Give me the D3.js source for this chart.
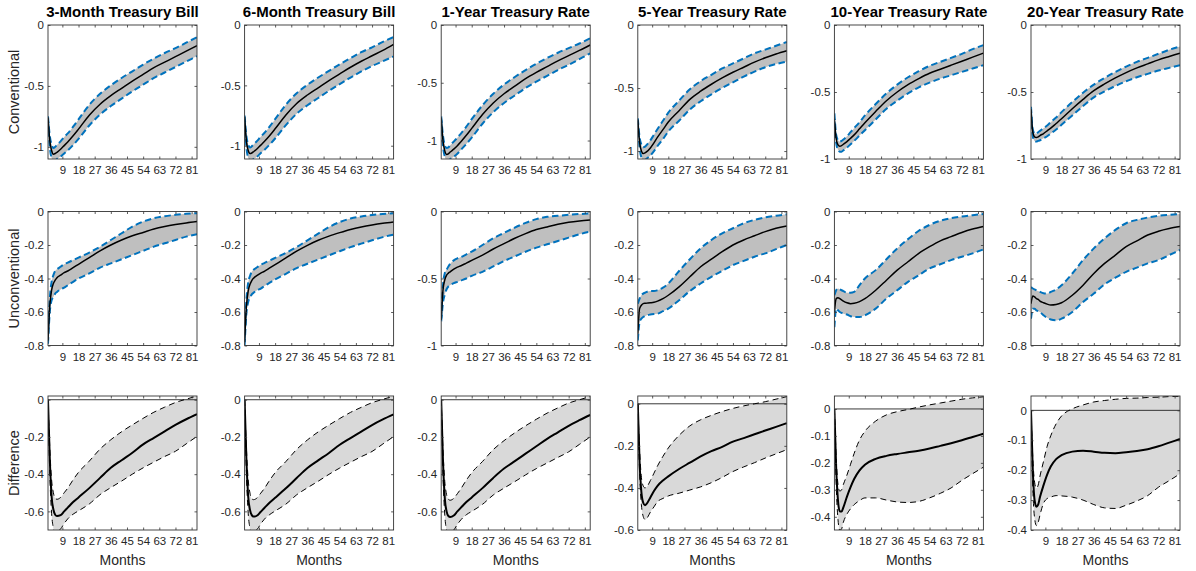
<!DOCTYPE html>
<html>
<head>
<meta charset="utf-8">
<script src="https://cdn.jsdelivr.net/npm/d3@7"></script>
<style>
  html, body { margin: 0; padding: 0; background: #fff; }
  svg { display: block; }
</style>
</head>
<body>
<svg id="chart" width="1196" height="571"></svg>
<script>
// Horizon (months) at which each response is sampled
const months = [1,2,3,4,5,6,8,10,12,15,18,24,30,36,42,48,54,60,66,72,78,84];
const xTicks = [9,18,27,36,45,54,63,72,81];

const titles = ["3-Month Treasury Bill","6-Month Treasury Bill","1-Year Treasury Rate",
                "5-Year Treasury Rate","10-Year Treasury Rate","20-Year Treasury Rate"];
const rowLabels = ["Conventional","Unconventional","Difference"];
const xLabel = "Months";

// ---- Conventional monetary policy shock: median and band ----
const conv3mMid = [-0.76,-0.95,-1.03,-1.06,-1.055,-1.045,-1.02,-0.99,-0.96,-0.91,-0.855,-0.74,-0.65,-0.58,-0.52,-0.46,-0.405,-0.35,-0.305,-0.26,-0.215,-0.17];
const conv3mLo  = [-0.78,-1.0,-1.09,-1.11,-1.115,-1.10,-1.08,-1.055,-1.03,-0.985,-0.935,-0.825,-0.735,-0.665,-0.605,-0.545,-0.49,-0.435,-0.39,-0.345,-0.30,-0.255];
const conv3mHi  = [-0.75,-0.91,-0.98,-1.01,-1.0,-0.985,-0.955,-0.92,-0.89,-0.835,-0.775,-0.655,-0.565,-0.495,-0.435,-0.38,-0.325,-0.275,-0.23,-0.19,-0.145,-0.10];

const conv6mMid = [-0.76,-0.96,-1.04,-1.065,-1.06,-1.05,-1.025,-0.995,-0.965,-0.915,-0.86,-0.745,-0.65,-0.58,-0.52,-0.46,-0.405,-0.35,-0.30,-0.255,-0.21,-0.16];
const conv6mLo  = [-0.78,-1.01,-1.1,-1.12,-1.12,-1.11,-1.09,-1.06,-1.035,-0.99,-0.94,-0.83,-0.735,-0.665,-0.605,-0.545,-0.49,-0.435,-0.385,-0.34,-0.30,-0.26];
const conv6mHi  = [-0.75,-0.92,-0.99,-1.015,-1.005,-0.99,-0.96,-0.925,-0.895,-0.84,-0.78,-0.66,-0.565,-0.495,-0.435,-0.38,-0.325,-0.275,-0.225,-0.185,-0.14,-0.10];

const conv1yMid = [-0.80,-1.0,-1.09,-1.12,-1.115,-1.10,-1.075,-1.045,-1.01,-0.955,-0.895,-0.775,-0.675,-0.595,-0.53,-0.465,-0.41,-0.36,-0.31,-0.265,-0.22,-0.173];
const conv1yLo  = [-0.82,-1.05,-1.14,-1.17,-1.17,-1.16,-1.14,-1.115,-1.08,-1.03,-0.975,-0.855,-0.755,-0.675,-0.61,-0.545,-0.49,-0.44,-0.39,-0.345,-0.295,-0.245];
const conv1yHi  = [-0.79,-0.96,-1.04,-1.065,-1.06,-1.04,-1.01,-0.975,-0.94,-0.88,-0.815,-0.695,-0.595,-0.515,-0.45,-0.39,-0.335,-0.285,-0.24,-0.20,-0.16,-0.115];

const conv5yMid = [-0.75,-0.93,-1.0,-1.02,-1.015,-1.005,-0.975,-0.935,-0.89,-0.83,-0.77,-0.68,-0.59,-0.525,-0.47,-0.42,-0.375,-0.335,-0.295,-0.26,-0.23,-0.204];
const conv5yLo  = [-0.76,-0.97,-1.05,-1.07,-1.07,-1.06,-1.035,-1.0,-0.96,-0.905,-0.845,-0.76,-0.67,-0.605,-0.55,-0.5,-0.455,-0.41,-0.37,-0.335,-0.31,-0.29];
const conv5yHi  = [-0.74,-0.89,-0.95,-0.97,-0.965,-0.95,-0.915,-0.87,-0.825,-0.76,-0.695,-0.6,-0.51,-0.445,-0.395,-0.345,-0.305,-0.265,-0.225,-0.195,-0.165,-0.135];

const conv10yMid = [-0.70,-0.85,-0.895,-0.905,-0.90,-0.89,-0.87,-0.845,-0.82,-0.775,-0.73,-0.645,-0.565,-0.5,-0.445,-0.4,-0.36,-0.33,-0.30,-0.27,-0.24,-0.21];
const conv10yLo  = [-0.72,-0.88,-0.93,-0.945,-0.945,-0.935,-0.915,-0.89,-0.865,-0.825,-0.785,-0.705,-0.625,-0.565,-0.51,-0.465,-0.43,-0.40,-0.375,-0.35,-0.325,-0.30];
const conv10yHi  = [-0.66,-0.82,-0.86,-0.87,-0.865,-0.855,-0.83,-0.80,-0.77,-0.725,-0.675,-0.59,-0.51,-0.445,-0.39,-0.345,-0.305,-0.275,-0.245,-0.215,-0.18,-0.15];

const conv20yMid = [-0.63,-0.80,-0.835,-0.84,-0.835,-0.825,-0.81,-0.79,-0.77,-0.735,-0.70,-0.625,-0.555,-0.49,-0.44,-0.395,-0.355,-0.32,-0.29,-0.26,-0.235,-0.21];
const conv20yLo  = [-0.65,-0.83,-0.865,-0.87,-0.865,-0.86,-0.845,-0.83,-0.81,-0.78,-0.745,-0.675,-0.605,-0.54,-0.495,-0.455,-0.42,-0.39,-0.365,-0.34,-0.32,-0.30];
const conv20yHi  = [-0.61,-0.78,-0.81,-0.81,-0.8,-0.79,-0.77,-0.75,-0.725,-0.69,-0.65,-0.575,-0.505,-0.445,-0.395,-0.35,-0.31,-0.275,-0.245,-0.215,-0.185,-0.16];

// ---- Unconventional monetary policy shock ----
const unc3mMid = [-0.77,-0.56,-0.47,-0.43,-0.41,-0.395,-0.38,-0.365,-0.355,-0.335,-0.315,-0.275,-0.235,-0.20,-0.17,-0.145,-0.125,-0.105,-0.09,-0.078,-0.068,-0.06];
const unc3mLo  = [-0.79,-0.60,-0.53,-0.51,-0.49,-0.48,-0.465,-0.455,-0.44,-0.42,-0.40,-0.37,-0.335,-0.31,-0.285,-0.26,-0.235,-0.21,-0.19,-0.17,-0.15,-0.135];
const unc3mHi  = [-0.75,-0.52,-0.42,-0.38,-0.355,-0.345,-0.33,-0.315,-0.305,-0.29,-0.275,-0.245,-0.21,-0.17,-0.13,-0.09,-0.06,-0.04,-0.028,-0.02,-0.014,-0.01];

const unc6mMid = [-0.78,-0.57,-0.475,-0.435,-0.412,-0.398,-0.382,-0.368,-0.357,-0.337,-0.317,-0.277,-0.237,-0.202,-0.172,-0.147,-0.126,-0.107,-0.092,-0.08,-0.07,-0.062];
const unc6mLo  = [-0.80,-0.61,-0.54,-0.515,-0.495,-0.485,-0.47,-0.46,-0.445,-0.425,-0.405,-0.372,-0.338,-0.312,-0.287,-0.262,-0.237,-0.213,-0.192,-0.172,-0.153,-0.138];
const unc6mHi  = [-0.76,-0.53,-0.425,-0.385,-0.36,-0.348,-0.333,-0.318,-0.308,-0.292,-0.277,-0.247,-0.212,-0.172,-0.132,-0.093,-0.063,-0.042,-0.03,-0.021,-0.015,-0.011];

const unc1yMid = [-0.81,-0.585,-0.51,-0.475,-0.46,-0.45,-0.43,-0.415,-0.405,-0.385,-0.365,-0.325,-0.28,-0.24,-0.20,-0.165,-0.135,-0.115,-0.095,-0.08,-0.07,-0.063];
const unc1yLo  = [-0.82,-0.68,-0.62,-0.58,-0.56,-0.55,-0.535,-0.525,-0.515,-0.50,-0.48,-0.45,-0.41,-0.37,-0.335,-0.30,-0.27,-0.245,-0.22,-0.195,-0.17,-0.15];
const unc1yHi  = [-0.80,-0.55,-0.46,-0.435,-0.41,-0.39,-0.365,-0.35,-0.34,-0.32,-0.30,-0.25,-0.20,-0.16,-0.12,-0.085,-0.057,-0.04,-0.032,-0.025,-0.019,-0.014];

const unc5yMid = [-0.73,-0.58,-0.56,-0.55,-0.548,-0.547,-0.545,-0.542,-0.535,-0.52,-0.50,-0.45,-0.39,-0.33,-0.285,-0.24,-0.20,-0.17,-0.145,-0.12,-0.10,-0.087];
const unc5yLo  = [-0.77,-0.66,-0.64,-0.63,-0.625,-0.62,-0.615,-0.612,-0.61,-0.595,-0.58,-0.53,-0.475,-0.43,-0.39,-0.355,-0.32,-0.295,-0.27,-0.25,-0.225,-0.20];
const unc5yHi  = [-0.55,-0.52,-0.50,-0.49,-0.485,-0.48,-0.475,-0.475,-0.47,-0.455,-0.43,-0.355,-0.285,-0.22,-0.17,-0.13,-0.10,-0.07,-0.05,-0.035,-0.025,-0.017];

const unc10yMid = [-0.60,-0.52,-0.515,-0.52,-0.528,-0.535,-0.545,-0.55,-0.548,-0.538,-0.52,-0.47,-0.41,-0.35,-0.30,-0.25,-0.21,-0.175,-0.15,-0.125,-0.105,-0.09];
const unc10yLo  = [-0.69,-0.58,-0.59,-0.60,-0.605,-0.61,-0.615,-0.625,-0.63,-0.63,-0.62,-0.58,-0.52,-0.47,-0.42,-0.38,-0.34,-0.315,-0.29,-0.27,-0.25,-0.226];
const unc10yHi  = [-0.50,-0.47,-0.46,-0.465,-0.47,-0.475,-0.485,-0.485,-0.48,-0.44,-0.40,-0.35,-0.285,-0.22,-0.165,-0.115,-0.08,-0.055,-0.04,-0.03,-0.022,-0.015];

const unc20yMid = [-0.55,-0.505,-0.51,-0.52,-0.525,-0.535,-0.545,-0.553,-0.558,-0.555,-0.545,-0.50,-0.44,-0.37,-0.31,-0.26,-0.21,-0.175,-0.14,-0.118,-0.102,-0.09];
const unc20yLo  = [-0.64,-0.58,-0.58,-0.59,-0.595,-0.60,-0.62,-0.635,-0.645,-0.65,-0.64,-0.60,-0.54,-0.49,-0.435,-0.395,-0.36,-0.335,-0.31,-0.29,-0.26,-0.23];
const unc20yHi  = [-0.45,-0.46,-0.465,-0.47,-0.475,-0.48,-0.488,-0.49,-0.48,-0.465,-0.44,-0.37,-0.29,-0.22,-0.16,-0.11,-0.07,-0.05,-0.036,-0.026,-0.02,-0.015];

// ---- Difference between the two responses ----
const diff3mMid = [0,-0.32,-0.52,-0.59,-0.618,-0.625,-0.62,-0.60,-0.58,-0.55,-0.525,-0.475,-0.42,-0.366,-0.325,-0.285,-0.24,-0.205,-0.17,-0.135,-0.105,-0.078];
const diff3mLo  = [0,-0.40,-0.61,-0.69,-0.72,-0.71,-0.695,-0.665,-0.64,-0.615,-0.597,-0.56,-0.51,-0.472,-0.437,-0.40,-0.366,-0.335,-0.305,-0.277,-0.237,-0.197];
const diff3mHi  = [0,-0.26,-0.43,-0.50,-0.53,-0.535,-0.525,-0.50,-0.475,-0.43,-0.39,-0.33,-0.265,-0.215,-0.172,-0.135,-0.10,-0.067,-0.04,-0.015,0.003,0.02];

const diff6mMid = [0,-0.32,-0.52,-0.592,-0.62,-0.628,-0.622,-0.602,-0.582,-0.552,-0.527,-0.476,-0.421,-0.367,-0.326,-0.286,-0.242,-0.206,-0.171,-0.136,-0.106,-0.079];
const diff6mLo  = [0,-0.40,-0.61,-0.69,-0.72,-0.712,-0.697,-0.667,-0.642,-0.617,-0.598,-0.561,-0.511,-0.473,-0.438,-0.401,-0.367,-0.336,-0.306,-0.278,-0.238,-0.198];
const diff6mHi  = [0,-0.26,-0.43,-0.502,-0.532,-0.537,-0.527,-0.502,-0.477,-0.432,-0.392,-0.332,-0.267,-0.216,-0.173,-0.136,-0.101,-0.068,-0.041,-0.016,0.002,0.019];

const diff1yMid = [0,-0.33,-0.53,-0.60,-0.625,-0.63,-0.622,-0.60,-0.58,-0.55,-0.525,-0.475,-0.42,-0.37,-0.33,-0.29,-0.25,-0.21,-0.175,-0.14,-0.11,-0.082];
const diff1yLo  = [0,-0.41,-0.62,-0.70,-0.72,-0.715,-0.70,-0.67,-0.645,-0.618,-0.60,-0.562,-0.512,-0.475,-0.44,-0.404,-0.37,-0.34,-0.31,-0.28,-0.24,-0.20];
const diff1yHi  = [0,-0.27,-0.44,-0.51,-0.535,-0.54,-0.53,-0.505,-0.478,-0.432,-0.392,-0.332,-0.268,-0.22,-0.178,-0.14,-0.105,-0.072,-0.044,-0.018,0.0,0.017];

const diff5yMid = [0,-0.28,-0.42,-0.47,-0.482,-0.475,-0.445,-0.415,-0.39,-0.365,-0.345,-0.31,-0.28,-0.25,-0.225,-0.205,-0.18,-0.163,-0.145,-0.127,-0.11,-0.092];
const diff5yLo  = [0,-0.33,-0.48,-0.535,-0.55,-0.545,-0.515,-0.49,-0.465,-0.45,-0.438,-0.425,-0.41,-0.395,-0.375,-0.35,-0.322,-0.30,-0.28,-0.258,-0.238,-0.218];
const diff5yHi  = [0,-0.22,-0.35,-0.39,-0.40,-0.395,-0.365,-0.33,-0.295,-0.25,-0.21,-0.15,-0.105,-0.076,-0.055,-0.037,-0.022,-0.01,0.0,0.01,0.022,0.034];

const diff10yMid = [0,-0.22,-0.34,-0.38,-0.38,-0.365,-0.325,-0.29,-0.26,-0.228,-0.207,-0.185,-0.174,-0.167,-0.161,-0.155,-0.147,-0.137,-0.127,-0.116,-0.104,-0.092];
const diff10yLo  = [0,-0.28,-0.41,-0.45,-0.445,-0.42,-0.39,-0.37,-0.355,-0.34,-0.33,-0.33,-0.338,-0.345,-0.347,-0.343,-0.33,-0.313,-0.293,-0.265,-0.24,-0.216];
const diff10yHi  = [0,-0.18,-0.28,-0.305,-0.30,-0.28,-0.245,-0.205,-0.165,-0.115,-0.083,-0.045,-0.022,-0.01,-0.002,0.007,0.015,0.022,0.029,0.036,0.041,0.045];

const diff20yMid = [0,-0.2,-0.30,-0.322,-0.315,-0.29,-0.25,-0.215,-0.188,-0.163,-0.15,-0.138,-0.135,-0.138,-0.142,-0.143,-0.14,-0.136,-0.13,-0.12,-0.108,-0.096];
const diff20yLo  = [0,-0.26,-0.36,-0.385,-0.375,-0.35,-0.31,-0.295,-0.29,-0.285,-0.286,-0.29,-0.30,-0.315,-0.326,-0.328,-0.317,-0.303,-0.285,-0.257,-0.235,-0.212];
const diff20yHi  = [0,-0.16,-0.24,-0.26,-0.25,-0.22,-0.17,-0.12,-0.085,-0.045,-0.019,0.005,0.018,0.028,0.033,0.037,0.04,0.041,0.043,0.044,0.046,0.047];

// Axis limits and tick values per row
const yLimConv = [[-1.1,0],[-1.11,0],[-1.16,0],[-1.063,0],[-1,0],[-1,0]];
const yLimUnc  = [[-0.8,0],[-0.8,0],[-1,0],[-0.8,0],[-0.8,0],[-0.8,0]];
const yLimDiff = [[-0.7,0.02],[-0.7,0.02],[-0.7,0.02],[-0.6,0.037],[-0.449,0.048],[-0.4,0.048]];
const ticksConv = [[-1,-0.5,0],[-1,-0.5,0],[-1,-0.5,0],[-1,-0.5,0],[-1,-0.5,0],[-1,-0.5,0]];
const ticksUnc  = [[-0.8,-0.6,-0.4,-0.2,0],[-0.8,-0.6,-0.4,-0.2,0],[-1,-0.5,0],
                   [-0.8,-0.6,-0.4,-0.2,0],[-0.8,-0.6,-0.4,-0.2,0],[-0.8,-0.6,-0.4,-0.2,0]];
const ticksDiff = [[-0.6,-0.4,-0.2,0],[-0.6,-0.4,-0.2,0],[-0.6,-0.4,-0.2,0],[-0.6,-0.4,-0.2,0],
                   [-0.4,-0.3,-0.2,-0.1,0],[-0.4,-0.3,-0.2,-0.1,0]];

const rows = [
  { band: [[conv3mLo,conv3mMid,conv3mHi],[conv6mLo,conv6mMid,conv6mHi],[conv1yLo,conv1yMid,conv1yHi],
           [conv5yLo,conv5yMid,conv5yHi],[conv10yLo,conv10yMid,conv10yHi],[conv20yLo,conv20yMid,conv20yHi]],
    lim: yLimConv, ticks: ticksConv, diff: false },
  { band: [[unc3mLo,unc3mMid,unc3mHi],[unc6mLo,unc6mMid,unc6mHi],[unc1yLo,unc1yMid,unc1yHi],
           [unc5yLo,unc5yMid,unc5yHi],[unc10yLo,unc10yMid,unc10yHi],[unc20yLo,unc20yMid,unc20yHi]],
    lim: yLimUnc, ticks: ticksUnc, diff: false },
  { band: [[diff3mLo,diff3mMid,diff3mHi],[diff6mLo,diff6mMid,diff6mHi],[diff1yLo,diff1yMid,diff1yHi],
           [diff5yLo,diff5yMid,diff5yHi],[diff10yLo,diff10yMid,diff10yHi],[diff20yLo,diff20yMid,diff20yHi]],
    lim: yLimDiff, ticks: ticksDiff, diff: true }
];

// ---- Layout ----
const svg = d3.select("#chart");
const FONT = "'Liberation Sans', Arial, Helvetica, sans-serif";
const TEXT = "#262626";
const pw = 149, ph = 134;
const colLeft = d3.range(6).map(i => 48 + i * 196.6);
const rowTop = [25, 211.5, 396];
const fmt = v => String(+v.toFixed(2));

rows.forEach((row, r) => {
  row.band.forEach((series, c) => {
    const [lo, mid, hi] = series;
    const g = svg.append("g").attr("transform", `translate(${colLeft[c]},${rowTop[r]})`);
    const x = d3.scaleLinear().domain([1, 84]).range([0, pw]);
    const y = d3.scaleLinear().domain(row.lim[c]).range([ph, 0]);

    const clipId = `clip-${r}-${c}`;
    g.append("clipPath").attr("id", clipId)
      .append("rect").attr("width", pw).attr("height", ph);
    const plot = g.append("g").attr("clip-path", `url(#${clipId})`);

    const area = d3.area()
      .x((d, i) => x(months[i]))
      .y0((d, i) => y(lo[i]))
      .y1((d, i) => y(hi[i]))
      .curve(d3.curveMonotoneX);
    const line = d3.line()
      .x((d, i) => x(months[i]))
      .y(d => y(d))
      .curve(d3.curveMonotoneX);

    plot.append("path").datum(months).attr("d", area)
      .attr("fill", row.diff ? "#d9d9d9" : "#bfbfbf").attr("stroke", "none");

    if (row.diff) {
      plot.append("line")
        .attr("x1", x(1)).attr("x2", x(84))
        .attr("y1", y(0)).attr("y2", y(0))
        .attr("stroke", "#222").attr("stroke-width", 0.9);
    }

    [lo, hi].forEach(s => {
      plot.append("path").datum(s).attr("d", line)
        .attr("fill", "none")
        .attr("stroke", row.diff ? "#000" : "#0072bd")
        .attr("stroke-width", row.diff ? 1 : 2)
        .attr("stroke-dasharray", row.diff ? "6,4" : "6.5,3.5");
    });

    plot.append("path").datum(mid).attr("d", line)
      .attr("fill", "none").attr("stroke", "#000")
      .attr("stroke-width", row.diff ? 2 : 1.5);

    // Axes: ticks point inward on all four sides
    const axStyle = sel => {
      sel.attr("font-family", FONT).attr("font-size", 11.5);
      sel.select(".domain").remove();
      sel.selectAll(".tick line").attr("stroke", "#333").attr("stroke-width", 0.8);
      sel.selectAll(".tick text").attr("fill", TEXT);
    };
    g.append("g").attr("transform", `translate(0,${ph})`)
      .call(d3.axisBottom(x).tickValues(xTicks).tickSizeInner(-2.5).tickSizeOuter(0)
        .tickPadding(7).tickFormat(d3.format("d")))
      .call(axStyle);
    g.append("g")
      .call(d3.axisTop(x).tickValues(xTicks).tickSizeInner(-2.5).tickSizeOuter(0).tickFormat(""))
      .call(axStyle);
    g.append("g")
      .call(d3.axisLeft(y).tickValues(row.ticks[c]).tickSizeInner(-2.5).tickSizeOuter(0)
        .tickPadding(4).tickFormat(fmt))
      .call(axStyle);
    g.append("g").attr("transform", `translate(${pw},0)`)
      .call(d3.axisRight(y).tickValues(row.ticks[c]).tickSizeInner(-2.5).tickSizeOuter(0).tickFormat(""))
      .call(axStyle);

    g.append("rect").attr("width", pw).attr("height", ph)
      .attr("fill", "none").attr("stroke", "#333").attr("stroke-width", 0.9);

    if (r === 0) {
      g.append("text").attr("x", pw / 2).attr("y", -8)
        .attr("text-anchor", "middle").attr("font-family", FONT)
        .attr("font-weight", "bold").attr("font-size", 15).attr("fill", "#000")
        .text(titles[c]);
    }
    if (r === 2) {
      g.append("text").attr("x", pw / 2).attr("y", ph + 35)
        .attr("text-anchor", "middle").attr("font-family", FONT)
        .attr("font-size", 14).attr("fill", TEXT)
        .text(xLabel);
    }
  });

  svg.append("text")
    .attr("transform", `translate(19,${rowTop[r] + ph / 2}) rotate(-90)`)
    .attr("text-anchor", "middle").attr("font-family", FONT)
    .attr("font-size", 14.5).attr("fill", TEXT)
    .text(rowLabels[r]);
});
</script>
</body>
</html>
